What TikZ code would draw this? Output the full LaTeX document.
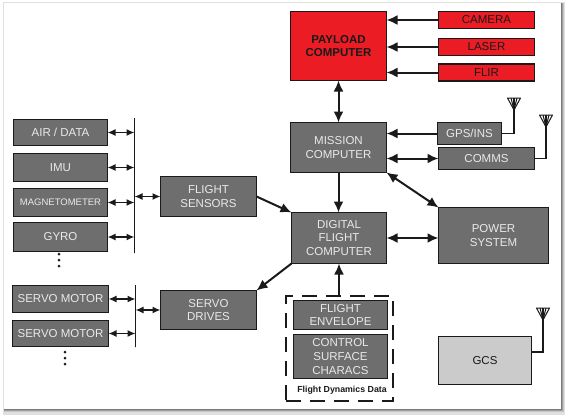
\documentclass[tikz,border=0pt]{standalone}
\usepackage{fontspec}
\setmainfont{Liberation Sans}
\usetikzlibrary{calc,arrows.meta}
\definecolor{Payload}{HTML}{EC1C24}
\definecolor{Unit}{HTML}{6E6E6E}
\definecolor{Ground}{HTML}{CBCBCB}
\definecolor{Ink}{HTML}{1A1A1A}
\tikzset{
  unitbox/.style={draw=Ink,fill=Unit,line width=1.25pt,align=center,inner sep=0pt,outer sep=0pt,
    text=white!85!Unit,font=\fontsize{11.5}{13.7}\selectfont},
  redbox/.style={unitbox,fill=Payload,text=Ink},
  bus/.style={draw=Ink,line width=1.2pt,inner sep=0pt,outer sep=0pt,minimum width=0pt},
  link/.style={Ink,line width=2pt,-{Latex[length=11pt,width=10pt]}},
  twoway/.style={Ink,line width=2pt,{Latex[length=11pt,width=10pt]}-{Latex[length=11pt,width=10pt]}},
  feed/.style={Ink,line width=1.25pt},
  smalltwoway/.style={Ink,line width=1.5pt,{Latex[length=8pt,width=7pt]}-{Latex[length=8pt,width=7pt]}}
}
% antenna: #1 is the top of the mast
\newcommand{\antenna}[1]{%
  \draw[Ink,line width=1pt,line join=round] ($(#1)+(-6.5,0)$)--($(#1)+(6.5,0)$)--($(#1)+(0,12)$)--cycle;
  \draw[Ink,line width=1pt] ($(#1)+(-3,0)$)--($(#1)+(0,12)$)--($(#1)+(3,0)$);
}
\begin{document}
\begin{tikzpicture}[x=1pt,y=-1pt]
  \useasboundingbox (0,0) rectangle (566,416);
  % Sheet with its soft edge.
  \fill[white] (0,0) rectangle (566,416);
  \fill[black!12] (2.5,1.5) rectangle (565,415);
  \foreach \s/\c in {4/22,3/38,2/52,1/66} {
    \fill[black!\c] (4,3) rectangle (560+\s,408+\s);
  }
  \fill[white] (4,3) rectangle (560.5,408.5);

  % Payload side.
  \node[redbox,minimum width=96,minimum height=69,font=\fontsize{11.5}{13.7}\selectfont\bfseries] (payload) at (338.5,46) {PAYLOAD\\COMPUTER};
  \node[redbox,minimum width=96,minimum height=17] (camera) at (486.5,20) {CAMERA};
  \node[redbox,minimum width=96,minimum height=17] (laser) at (486.5,47) {LASER};
  \node[redbox,minimum width=96,minimum height=17] (flir) at (486.5,72.5) {FLIR};
  \draw[link] (camera.west) -- (camera.west -| payload.east);
  \draw[link] (laser.west) -- (laser.west -| payload.east);
  \draw[link] (flir.west) -- (flir.west -| payload.east);

  % Mission and flight computers.
  \node[unitbox,minimum width=96,minimum height=50] (mission) at (338.5,147.5) {MISSION\\COMPUTER};
  \node[unitbox,minimum width=64,minimum height=22] (gps) at (469.5,133.5) {GPS/INS};
  \node[unitbox,minimum width=96,minimum height=22] (comms) at (486.5,158.5) {COMMS};
  \node[unitbox,minimum width=110,minimum height=56] (power) at (493.5,235.5) {POWER\\SYSTEM};
  \node[unitbox,minimum width=95,minimum height=51] (digital) at (339,238) {DIGITAL\\FLIGHT\\COMPUTER};
  \draw[twoway] (payload.south) -- (mission.north);
  \draw[link] (gps.west) -- (gps.west -| mission.east);
  \draw[twoway] (comms.west) -- (comms.west -| mission.east);
  \draw[link] (mission.south) -- (mission.south |- digital.north);
  \draw[twoway] (mission.south east) -- (power.north west);
  \draw[twoway] (power.west |- digital.east) -- (digital.east);

  % Antennas.
  \coordinate (gpsmast) at (514,98);
  \coordinate (commsmast) at (546,115);
  \coordinate (gcsmast) at (543,308);
  \antenna{gpsmast}
  \antenna{commsmast}
  \antenna{gcsmast}
  \draw[feed] (gps.east) -| (gpsmast);
  \draw[feed] (comms.east) -| (commsmast);

  % Sensors on their bus.
  \node[unitbox,minimum width=94,minimum height=26] (airdata) at (60.5,132.5) {AIR / DATA};
  \node[unitbox,minimum width=94,minimum height=28] (imu) at (60.5,167.5) {IMU};
  \node[unitbox,minimum width=94,minimum height=28,font=\fontsize{9.5}{11}\selectfont] (magneto) at (60.5,202.5) {MAGNETOMETER};
  \node[unitbox,minimum width=94,minimum height=29] (gyro) at (60.5,237) {GYRO};
  \node[bus,minimum height=135] (sensbus) at (134.5,185.5) {};
  \node[unitbox,minimum width=96,minimum height=40] (sensors) at (208.5,196.5) {FLIGHT\\SENSORS};
  \foreach \n in {airdata,imu,magneto,gyro} {
    \draw[smalltwoway] (\n.east) -- (\n.east -| sensbus.west);
  }
  \draw[smalltwoway] (sensbus.east |- sensors.west) -- (sensors.west);
  \draw[link] (sensors.east) -- (digital.north west);
  \foreach \i in {254,260,266} \fill[Ink] (59,\i) circle (1.5);

  % Servos on their bus.
  \node[unitbox,minimum width=96,minimum height=27] (servoa) at (60.5,299) {SERVO MOTOR};
  \node[unitbox,minimum width=96,minimum height=26] (servob) at (60.5,333.5) {SERVO MOTOR};
  \node[bus,minimum height=62] (servobus) at (135.5,316) {};
  \node[unitbox,minimum width=96,minimum height=39] (drives) at (208.5,310) {SERVO\\DRIVES};
  \foreach \n in {servoa,servob} {
    \draw[smalltwoway] (\n.east) -- (\n.east -| servobus.west);
  }
  \draw[smalltwoway] (servobus.east |- drives.west) -- (drives.west);
  \draw[link] (digital.south west) -- (drives.north east);
  \foreach \i in {352,358,364} \fill[Ink] (65,\i) circle (1.5);

  % Dynamics data group.
  \node[unitbox,minimum width=94,minimum height=29] (envelope) at (340.5,315) {FLIGHT\\ENVELOPE};
  \node[unitbox,minimum width=94,minimum height=44] (surface) at (340.5,356.5) {CONTROL\\SURFACE\\CHARACS};
  \node[draw=Ink,line width=1.6pt,minimum width=107,minimum height=105,inner sep=0pt,outer sep=0pt,dash pattern=on 15pt off 9pt] (dynamics) at (339.5,348.5) {};
  \node[font=\fontsize{8.8}{10}\selectfont\bfseries,text=Ink] (dynlabel) at (342,390) {Flight Dynamics Data};
  \draw[link] (dynamics.north -| digital.south) -- (digital.south);

  % Ground station.
  \node[unitbox,fill=Ground,text=Ink,minimum width=93,minimum height=48] (gcs) at (485,360.5) {GCS};
  \draw[feed] (gcs.east |- 0,352) -| (gcsmast);
\end{tikzpicture}
\end{document}
